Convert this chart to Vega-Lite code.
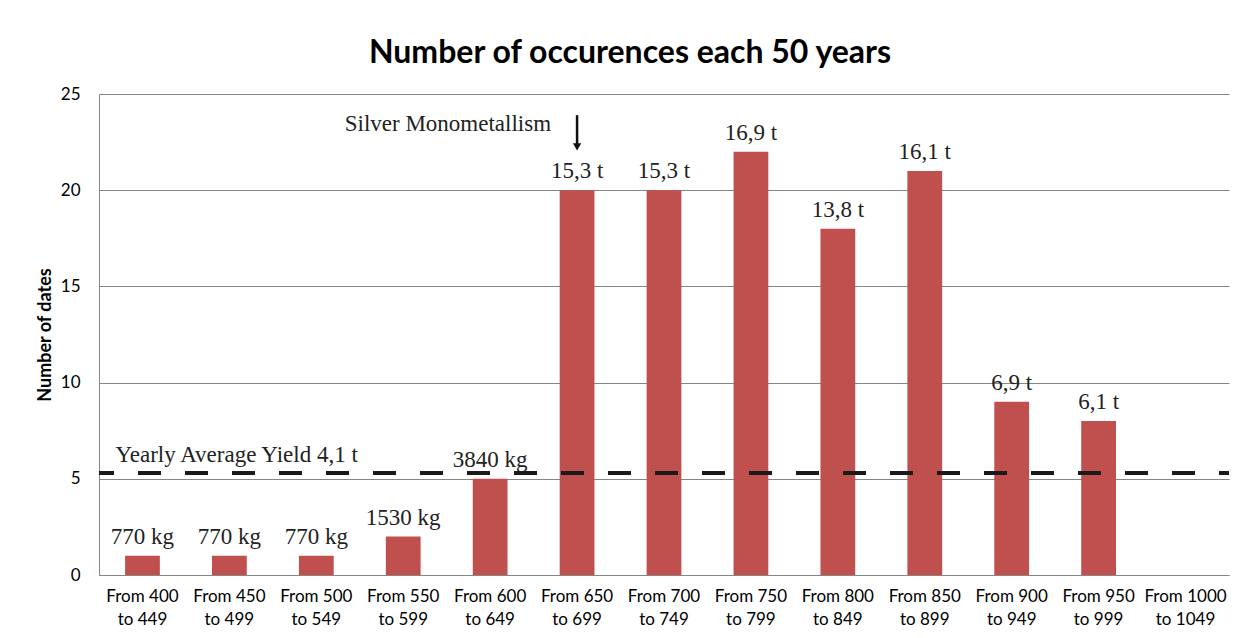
{
  "$schema": "https://vega.github.io/schema/vega-lite/v6.json",
  "width": 1130,
  "height": 481,
  "autosize": {"type": "none"},
  "padding": {"left": 99, "top": 94, "right": 9, "bottom": 63},
  "background": "white",
  "title": {
    "text": "Number of occurences each 50 years",
    "font": "Lato",
    "fontSize": 32,
    "fontWeight": "bold",
    "color": "#000000",
    "anchor": "middle",
    "dx": -34,
    "offset": 15
  },
  "config": {
    "view": {"stroke": null},
    "axis": {"labelFont": "Lato", "labelColor": "#000000", "titleFont": "Lato"}
  },
  "datasets": {
    "bars": [
      {"period": "From 400|to 449", "dates": 1, "label": "770 kg"},
      {"period": "From 450|to 499", "dates": 1, "label": "770 kg"},
      {"period": "From 500|to 549", "dates": 1, "label": "770 kg"},
      {"period": "From 550|to 599", "dates": 2, "label": "1530 kg"},
      {"period": "From 600|to 649", "dates": 5, "label": "3840 kg"},
      {"period": "From 650|to 699", "dates": 20, "label": "15,3 t"},
      {"period": "From 700|to 749", "dates": 20, "label": "15,3 t"},
      {"period": "From 750|to 799", "dates": 22, "label": "16,9 t"},
      {"period": "From 800|to 849", "dates": 18, "label": "13,8 t"},
      {"period": "From 850|to 899", "dates": 21, "label": "16,1 t"},
      {"period": "From 900|to 949", "dates": 9, "label": "6,9 t"},
      {"period": "From 950|to 999", "dates": 8, "label": "6,1 t"},
      {"period": "From 1000|to 1049", "dates": 0, "label": ""}
    ],
    "avg": [{"period": "From 400|to 449", "level": 5.3, "note": "Yearly Average Yield 4,1 t"}],
    "silver": [{"period": "From 650|to 699", "ytext": 23.1, "top": 23.9, "bottom": 22.4, "head": 22.25, "note": "Silver Monometallism"}]
  },
  "layer": [
    {
      "data": {"name": "bars"},
      "mark": {"type": "bar", "color": "#C0504D"},
      "encoding": {
        "x": {
          "field": "period", "type": "nominal", "sort": null,
          "scale": {"paddingInner": 0.6, "paddingOuter": 0.3},
          "axis": {
            "title": null, "labelAngle": 0, "ticks": false,
            "domainColor": "#868686", "labelFontSize": 17,
            "labelPadding": 13, "labelLineHeight": 23,
            "labelExpr": "split(datum.value, '|')"
          }
        },
        "y": {
          "field": "dates", "type": "quantitative",
          "scale": {"domain": [0, 25], "padding": 0, "nice": false},
          "axis": {
            "title": "Number of dates", "titleFontSize": 18, "titleFontWeight": "bold",
            "titleColor": "#000000", "titlePadding": 6,
            "values": [0, 5, 10, 15, 20, 25], "ticks": false,
            "labelFontSize": 17, "labelPadding": 19,
            "domainColor": "#868686", "gridColor": "#868686", "gridOpacity": 1
          }
        }
      }
    },
    {
      "data": {"name": "bars"},
      "mark": {"type": "text", "font": "Liberation Serif", "fontSize": 23, "color": "#222222", "baseline": "alphabetic", "dy": -12},
      "encoding": {
        "x": {"field": "period", "type": "nominal", "sort": null},
        "y": {"field": "dates", "type": "quantitative"},
        "text": {"field": "label"}
      }
    },
    {
      "data": {"name": "avg"},
      "mark": {"type": "rule", "color": "#1a1a1a", "strokeWidth": 4, "strokeDash": [23, 24], "strokeDashOffset": 13},
      "encoding": {
        "y": {"field": "level", "type": "quantitative"}
      }
    },
    {
      "data": {"name": "avg"},
      "mark": {"type": "text", "font": "Liberation Serif", "fontSize": 23, "color": "#222222", "align": "left", "baseline": "alphabetic", "dx": -27, "dy": -11},
      "encoding": {
        "x": {"field": "period", "type": "nominal", "sort": null},
        "y": {"field": "level", "type": "quantitative"},
        "text": {"field": "note"}
      }
    },
    {
      "data": {"name": "silver"},
      "mark": {"type": "text", "font": "Liberation Serif", "fontSize": 23, "color": "#222222", "align": "right", "baseline": "alphabetic", "dx": -26},
      "encoding": {
        "x": {"field": "period", "type": "nominal", "sort": null},
        "y": {"field": "ytext", "type": "quantitative"},
        "text": {"field": "note"}
      }
    },
    {
      "data": {"name": "silver"},
      "mark": {"type": "rule", "color": "#111111", "strokeWidth": 2.5},
      "encoding": {
        "x": {"field": "period", "type": "nominal", "sort": null},
        "y": {"field": "top", "type": "quantitative"},
        "y2": {"field": "bottom"}
      }
    },
    {
      "data": {"name": "silver"},
      "mark": {"type": "point", "shape": "triangle-down", "filled": true, "color": "#111111", "size": 70, "opacity": 1},
      "encoding": {
        "x": {"field": "period", "type": "nominal", "sort": null},
        "y": {"field": "head", "type": "quantitative"}
      }
    }
  ]
}
